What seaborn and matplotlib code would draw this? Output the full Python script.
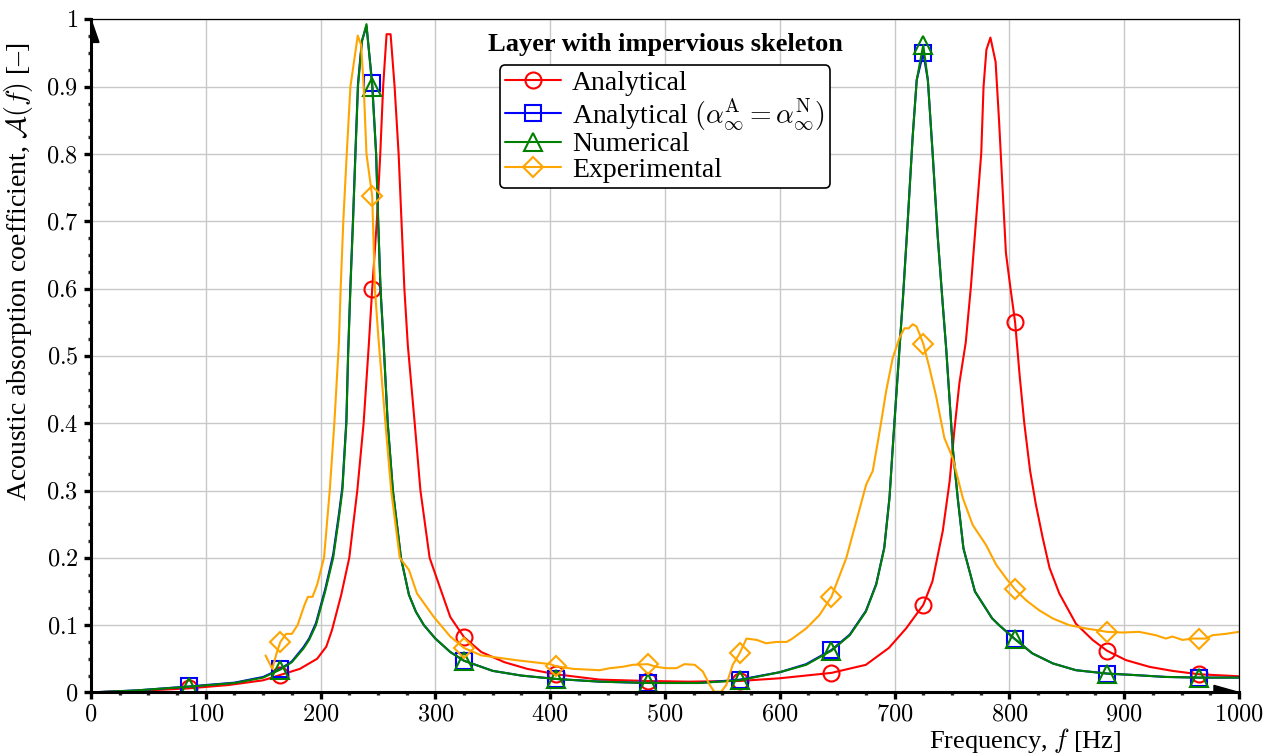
import matplotlib
matplotlib.use("Agg")
import matplotlib.pyplot as plt
from matplotlib.patches import Polygon
from matplotlib.ticker import MultipleLocator, FuncFormatter
import pandas as pd
import seaborn as sns

# frequencies where the markers sit (every 80 Hz)
marker_freqs = [85, 165, 245, 325, 405, 485, 565, 645, 725, 805, 885, 965]

# Analytical (red)
freq_ana = [0, 50, 85, 120, 150, 165, 182, 197, 205, 210, 218, 225, 232, 237.5, 242, 245,
            249, 252, 254.5, 257.5, 261, 264.5, 268, 270.5, 273, 276, 282, 287, 295, 313,
            325, 340, 360, 380, 405, 443, 485, 520, 565, 600, 645, 675, 695, 710, 725, 733,
            742, 748, 752, 756.5, 762, 766.5, 771, 775.5, 777.5, 780, 783.5, 788, 791, 794,
            797, 801, 805, 809, 813, 818, 823, 829, 835, 843.5, 858, 872.5, 885, 901.5, 922,
            942, 965, 1000]
absorb_ana = [0.0, 0.003, 0.006, 0.011, 0.018, 0.026, 0.035, 0.05, 0.068, 0.093, 0.145, 0.2,
              0.3, 0.4, 0.516, 0.6, 0.7, 0.8, 0.9, 0.978, 0.978, 0.9, 0.8, 0.7, 0.6, 0.516,
              0.4, 0.3, 0.2, 0.112, 0.082, 0.06, 0.045, 0.035, 0.027, 0.019, 0.017, 0.016,
              0.017, 0.021, 0.029, 0.041, 0.066, 0.095, 0.13, 0.165, 0.24, 0.314, 0.388, 0.46,
              0.52, 0.603, 0.702, 0.801, 0.9, 0.955, 0.973, 0.937, 0.85, 0.751, 0.653, 0.6,
              0.55, 0.47, 0.4, 0.33, 0.28, 0.23, 0.185, 0.147, 0.102, 0.078, 0.062, 0.048,
              0.038, 0.032, 0.027, 0.024]

# Numerical (green)
freq_num = [0, 40, 85, 125, 150, 165, 175, 185, 190, 196, 204, 211, 216, 219, 222.5, 224,
            226, 228.3, 230.4, 232.6, 236, 240, 245, 248.4, 250.2, 252.2, 255, 258.5, 263,
            270, 277, 283, 290, 300, 313, 325, 350, 375, 405, 443, 485, 530, 565, 600, 623,
            645, 661, 675, 684, 691, 695.6, 698.4, 701.4, 704.3, 707.5, 711.5, 715.8, 719.3,
            725, 729, 733.2, 737.6, 741.9, 745, 747.8, 750.7, 755, 760, 770, 785, 791, 805,
            820, 838, 858, 885, 907, 936, 965, 1000]
absorb_num = [0.0, 0.003, 0.0085, 0.014, 0.022, 0.034, 0.045, 0.065, 0.078, 0.1, 0.15, 0.2,
              0.26, 0.3, 0.4, 0.5, 0.6, 0.7, 0.8, 0.9, 0.967, 0.993, 0.9, 0.8, 0.7, 0.6,
              0.516, 0.4, 0.3, 0.2, 0.145, 0.12, 0.1, 0.08, 0.06, 0.047, 0.032, 0.025, 0.02,
              0.016, 0.014, 0.014, 0.018, 0.03, 0.041, 0.062, 0.085, 0.12, 0.16, 0.214, 0.289,
              0.363, 0.438, 0.51, 0.59, 0.7, 0.826, 0.91, 0.962, 0.91, 0.8, 0.677, 0.578,
              0.51, 0.438, 0.363, 0.289, 0.214, 0.15, 0.11, 0.1, 0.079, 0.058, 0.043, 0.033,
              0.028, 0.026, 0.023, 0.022, 0.022]

# Analytical with alpha_inf^A = alpha_inf^N (blue), almost on top of the numerical curve
freq_alpha = list(freq_num)
absorb_alpha = [0.0, 0.003, 0.0088, 0.0145, 0.023, 0.035, 0.046, 0.067, 0.08, 0.103, 0.153,
                0.205, 0.265, 0.305, 0.405, 0.505, 0.605, 0.705, 0.805, 0.905, 0.968, 0.99,
                0.905, 0.8, 0.7, 0.6, 0.516, 0.4, 0.3, 0.2, 0.145, 0.12, 0.1, 0.08, 0.06,
                0.047, 0.032, 0.025, 0.02, 0.016, 0.014, 0.014, 0.019, 0.03, 0.042, 0.063,
                0.086, 0.121, 0.161, 0.215, 0.29, 0.364, 0.44, 0.512, 0.592, 0.702, 0.827,
                0.91, 0.95, 0.91, 0.8, 0.677, 0.578, 0.51, 0.438, 0.363, 0.289, 0.214, 0.15,
                0.11, 0.1, 0.079, 0.058, 0.043, 0.033, 0.028, 0.026, 0.023, 0.022, 0.022]

# Experimental (orange)
freq_exp = [152, 158, 162, 165, 170, 175, 180, 186, 189, 193, 197, 203, 208, 212, 216, 217.5,
            219.8, 222.8, 226, 232.4, 235.3, 237.6, 240, 245, 247.3, 250.7, 256.5, 261.5,
            269, 277, 284, 298.7, 313, 325, 340, 370, 400, 405, 420, 443, 452, 463, 472, 485,
            492.5, 501, 510, 517, 526, 533, 539, 543, 549, 553.4, 559, 565, 571, 580, 588,
            597, 606, 611, 623, 634.6, 645, 658, 666.6, 675.3, 681, 687, 692.7, 698.4, 704.3,
            708.6, 712.3, 715.8, 719, 721.7, 725, 730, 736.2, 743.4, 750.7, 759.4, 768,
            779.7, 788.4, 797, 805, 814.5, 826, 837.7, 852, 866.7, 878.3, 885, 898.6, 913,
            927.6, 936.3, 942, 950.8, 959.5, 965, 971, 977, 988.5, 1000]
absorb_exp = [0.055, 0.035, 0.06, 0.075, 0.087, 0.087, 0.1, 0.13, 0.142, 0.142, 0.16, 0.2,
              0.3, 0.4, 0.52, 0.6, 0.7, 0.8, 0.9, 0.976, 0.962, 0.9, 0.8, 0.737, 0.6, 0.52,
              0.4, 0.3, 0.2, 0.182, 0.147, 0.112, 0.083, 0.066, 0.055, 0.048, 0.042, 0.039,
              0.035, 0.033, 0.036, 0.038, 0.041, 0.042, 0.038, 0.036, 0.036, 0.042, 0.041,
              0.031, 0.011, 0.001, 0.001, 0.011, 0.041, 0.058, 0.08, 0.078, 0.073, 0.075,
              0.075, 0.08, 0.095, 0.115, 0.142, 0.2, 0.254, 0.309, 0.329, 0.388, 0.448, 0.497,
              0.527, 0.541, 0.541, 0.547, 0.544, 0.533, 0.518, 0.485, 0.44, 0.378, 0.348,
              0.289, 0.249, 0.219, 0.19, 0.17, 0.153, 0.137, 0.122, 0.11, 0.1, 0.095, 0.092,
              0.09, 0.089, 0.09, 0.085, 0.08, 0.083, 0.078, 0.08, 0.08, 0.08, 0.085, 0.087,
              0.09]

series = [
    ("Analytical", freq_ana, absorb_ana, "#ff0000", "o", 11.5),
    (r"Analytical $(\alpha^{\mathrm{A}}_{\infty} = \alpha^{\mathrm{N}}_{\infty})$",
     freq_alpha, absorb_alpha, "#0000ff", "s", 11.5),
    ("Numerical", freq_num, absorb_num, "#008000", "^", 13),
    ("Experimental", freq_exp, absorb_exp, "#ffa500", "D", 10),
]

sns.set_theme(style="white")
plt.rcParams["font.family"] = ["Liberation Serif", "DejaVu Serif"]
plt.rcParams["mathtext.fontset"] = "cm"
plt.rcParams["text.color"] = "black"
plt.rcParams["axes.labelcolor"] = "black"

fig = plt.figure(figsize=(12.74, 7.55), dpi=100)
ax = fig.add_axes([0.0714, 0.0829, 0.9011, 0.8914])

for label, fx, fy, col, mk, ms in series:
    df = pd.DataFrame({"f": fx, "A": fy})
    idx = [i for i, f in enumerate(fx) if f in marker_freqs]
    sns.lineplot(data=df, x="f", y="A", ax=ax, color=col, linewidth=1.5,
                 marker=mk, markersize=ms, markevery=idx, markerfacecolor="none",
                 markeredgecolor=col, markeredgewidth=1.5, label=label, errorbar=None)

ax.set_xlim(0, 1000)
ax.set_ylim(0, 1)
ax.xaxis.set_major_locator(MultipleLocator(100))
ax.xaxis.set_minor_locator(MultipleLocator(25))
ax.yaxis.set_major_locator(MultipleLocator(0.1))
ax.yaxis.set_minor_locator(MultipleLocator(0.025))
ax.xaxis.set_major_formatter(FuncFormatter(lambda v, p: f"${v:g}$"))
ax.yaxis.set_major_formatter(FuncFormatter(lambda v, p: f"${round(v, 2):g}$"))
ax.tick_params(which="major", direction="out", length=5, width=2.4, labelsize=17.5,
               pad=4, colors="black", bottom=True, left=True)
ax.tick_params(which="minor", direction="out", length=2.4, width=2.4, bottom=True, left=True)

ax.set_axisbelow(True)
ax.grid(True, which="major", color="#c8c8c8", linewidth=1.0)
for side in ["bottom", "left"]:
    ax.spines[side].set_linewidth(2.2)
    ax.spines[side].set_color("black")
for side in ["top", "right"]:
    ax.spines[side].set_linewidth(0.9)
    ax.spines[side].set_color("black")

# half-arrow heads at the ends of the axes
ax.add_patch(Polygon([(1.0, 0.0), (1 - 25 / 1148, 7 / 673), (1 - 25 / 1148, 0.0)],
                     closed=True, transform=ax.transAxes, color="black", clip_on=False, zorder=5))
ax.add_patch(Polygon([(0.0, 1.0), (8 / 1148, 1 - 23 / 673), (0.0, 1 - 23 / 673)],
                     closed=True, transform=ax.transAxes, color="black", clip_on=False, zorder=5))

ax.set_xlabel("Frequency, $f$ [Hz]", fontsize=19)
ax.xaxis.set_label_coords(0.814, -0.05)
ax.set_ylabel(r"Acoustic absorption coefficient, $\mathcal{A}(f)$ [–]", fontsize=20)
ax.yaxis.set_label_coords(-0.049, 0.625)

ax.text(0.5, 0.962, "Layer with impervious skeleton", transform=ax.transAxes,
        ha="center", va="center", fontsize=19, fontweight="bold")

leg = ax.legend(loc="upper center", bbox_to_anchor=(0.5, 0.932), fontsize=20,
                frameon=True, fancybox=True, edgecolor="black", framealpha=1,
                labelspacing=0.0, handlelength=2.0, handletextpad=0.4, borderpad=0.2,
                borderaxespad=0)
leg.get_frame().set_linewidth(1.2)

fig.savefig("out.png", dpi=100)
